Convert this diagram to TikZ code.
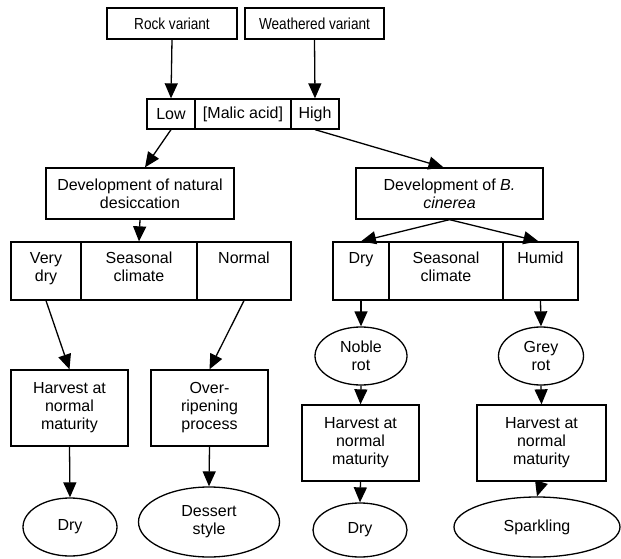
\documentclass[tikz,border=0pt]{standalone}
\usepackage{fontspec}
\setmainfont{Liberation Sans}
\newfontfamily\narrowfont[FakeStretch=0.85]{Liberation Sans}
\usetikzlibrary{shapes.geometric,arrows.meta}
\begin{document}
\begin{tikzpicture}[x=1pt,y=-1pt,
  every node/.style={font=\fontsize{16}{18}\selectfont, align=center, inner sep=0pt},
  box/.style={draw, line width=1.3pt, rectangle},
  cell/.style={draw, line width=1.3pt, rectangle, minimum height=58pt},
  oval/.style={draw, line width=1.3pt, ellipse},
  celltext/.style={anchor=north, inner ysep=10.5pt, font=\fontsize{16}{18}\selectfont, align=center},
  arr/.style={line width=1.3pt, -{Triangle[length=15pt,width=13pt]}}
]
\useasboundingbox (0,0) rectangle (621,559);
% top
\node[box, minimum width=130pt, minimum height=31pt, font=\narrowfont\fontsize{16}{18}\selectfont] (rock) at (172,23.5) {Rock variant};
\node[box, minimum width=139pt, minimum height=31pt, font=\narrowfont\fontsize{16}{18}\selectfont] (weath) at (314.5,23.5) {Weathered variant};
% malic row
\node[box, minimum width=48pt, minimum height=30pt] (low) at (171,114) {Low};
\node[box, minimum width=96pt, minimum height=30pt] (malic) at (243,114) {[Malic acid]};
\node[box, minimum width=48pt, minimum height=30pt] (high) at (315,114) {High};
% development boxes
\node[box, minimum width=188pt, minimum height=51pt] (devL) at (140,193.5) {Development of natural\\desiccation};
\node[box, minimum width=187pt, minimum height=51pt] (devR) at (449.5,193.5) {Development of \textit{B.}\\\textit{cinerea}};
% left climate row
\node[cell, minimum width=70pt, label={[celltext]north:Very\\dry}] (vdry) at (46,271) {};
\node[cell, minimum width=116pt, label={[celltext]north:Seasonal\\climate}] (seasL) at (139,271) {};
\node[cell, minimum width=94pt, label={[celltext]north:Normal}] (normal) at (244,271) {};
% right climate row
\node[cell, minimum width=56pt, label={[celltext]north:Dry}] (dryR) at (361,271) {};
\node[cell, minimum width=114pt, label={[celltext]north:Seasonal\\climate}] (seasR) at (446,271) {};
\node[cell, minimum width=75pt, label={[celltext]north:Humid}] (humid) at (540.5,271) {};
% rot ellipses
\node[oval, minimum width=92pt, minimum height=58pt] (noble) at (361,356) {Noble\\rot};
\node[oval, minimum width=85pt, minimum height=58pt] (grey) at (541,356) {Grey\\rot};
% harvest boxes
\node[box, minimum width=117pt, minimum height=76pt] (harvL) at (69.5,408) {Harvest at\\normal\\maturity};
\node[box, minimum width=117pt, minimum height=76pt] (over) at (209.5,408) {Over-\\ripening\\process};
\node[box, minimum width=117pt, minimum height=76pt] (harvR1) at (360.5,443) {Harvest at\\normal\\maturity};
\node[box, minimum width=129pt, minimum height=76pt] (harvR2) at (541.5,443) {Harvest at\\normal\\maturity};
% final ellipses
\node[oval, minimum width=94pt, minimum height=58pt] (dryL) at (70,527) {Dry};
\node[oval, minimum width=141pt, minimum height=70pt] (dessert) at (209,522) {Dessert\\style};
\node[oval, minimum width=94pt, minimum height=54pt] (dryR2) at (360,530) {Dry};
\node[oval, minimum width=166pt, minimum height=60pt] (spark) at (537,527) {Sparkling};
% arrows
\draw[arr] (rock.south) -- (low.north);
\draw[arr] (weath.south) -- (high.north);
\draw[arr] (low.south) -- ([xshift=5pt]devL.north);
\draw[arr] (high.south) -- ([xshift=-6pt]devR.north);
\draw[arr] (devL.south) -- (seasL.north);
\draw[arr] (devR.south) -- (dryR.north);
\draw[arr] (devR.south) -- ([xshift=-2pt]humid.north);
\draw[arr] (vdry.south) -- (harvL.north);
\draw[arr] (normal.south) -- (over.north);
\draw[arr] (harvL.south) -- (dryL.north);
\draw[arr] (over.south) -- (dessert.north);
\draw[arr] (dryR.south) -- (noble.north);
\draw[arr] (humid.south) -- (grey.north);
\draw[arr] (noble.south) -- (harvR1.north);
\draw[arr] (grey.south) -- (harvR2.north);
\draw[arr] (harvR1.south) -- (dryR2.north);
\draw[arr] (harvR2.south) -- (spark.north);
\end{tikzpicture}
\end{document}
